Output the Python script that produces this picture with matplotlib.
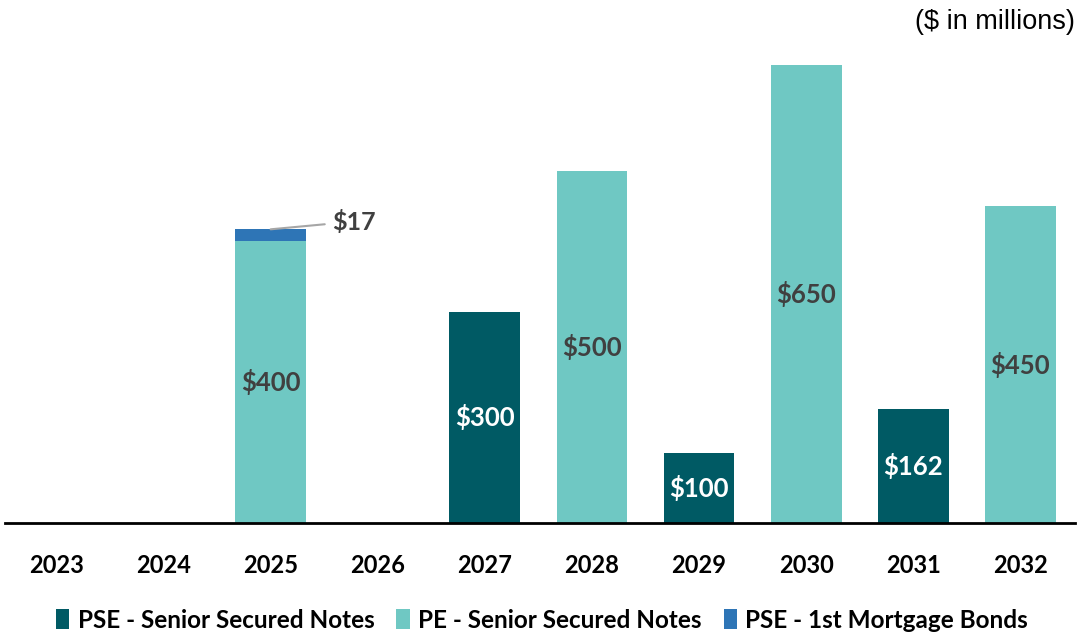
import matplotlib.pyplot as plt
import numpy as np

years = ['2023', '2024', '2025', '2026', '2027', '2028', '2029', '2030', '2031', '2032']
pse_senior = [0, 0, 0, 0, 300, 0, 100, 0, 162, 0]
pe_senior = [0, 0, 400, 0, 0, 500, 0, 650, 0, 450]
pse_mortgage = [0, 0, 17, 0, 0, 0, 0, 0, 0, 0]

c_dark = '#005A64'
c_light = '#6FC8C3'
c_blue = '#2E75B6'
txt = '#404040'

plt.rcParams['font.family'] = ['Lato', 'DejaVu Sans']

fig = plt.figure(figsize=(10.84, 6.35), dpi=100)
ax = fig.add_axes([5 / 1084, 112 / 635, 1070 / 1084, 493 / 635])

x = np.arange(len(years))
w = 0.66
pse_senior = np.array(pse_senior)
pe_senior = np.array(pe_senior)
pse_mortgage = np.array(pse_mortgage)

ax.bar(x, pse_senior, w, color=c_dark, label='PSE - Senior Secured Notes')
ax.bar(x, pe_senior, w, bottom=pse_senior, color=c_light, label='PE - Senior Secured Notes')
ax.bar(x, pse_mortgage, w, bottom=pse_senior + pe_senior, color=c_blue,
       label='PSE - 1st Mortgage Bonds')

# value labels inside bars
for i in range(len(years)):
    if pse_senior[i] > 0:
        ax.text(x[i], pse_senior[i] / 2, f'${pse_senior[i]}', ha='center', va='center',
                color='white', fontsize=18.5, fontweight='bold')
    if pe_senior[i] > 0:
        ax.text(x[i], pse_senior[i] + pe_senior[i] / 2, f'${pe_senior[i]}', ha='center',
                va='center', color=txt, fontsize=18.5, fontweight='bold')
    if pse_mortgage[i] > 0:
        top = pse_senior[i] + pe_senior[i] + pse_mortgage[i]
        ax.annotate(f'${pse_mortgage[i]}', xy=(x[i], top), xytext=(x[i] + 0.57, top + 11),
                    ha='left', va='center', color=txt, fontsize=18, fontweight='bold',
                    arrowprops=dict(arrowstyle='-', color='#A6A6A6', lw=1.5,
                                    shrinkA=3, shrinkB=0))

ax.set_xlim(-0.48, 9.51)
ax.set_ylim(0, 700)
for s in ['top', 'right', 'left']:
    ax.spines[s].set_visible(False)
ax.spines['bottom'].set_linewidth(2)
ax.spines['bottom'].set_color('black')
ax.set_yticks([])
ax.set_xticks(x)
ax.set_xticklabels(years, fontsize=17, fontweight='bold')
ax.tick_params(axis='x', length=0, pad=22)

fig.text(1075 / 1084, 1 - 22 / 635, '($ in millions)', ha='right', va='center',
         fontsize=19.5, family='Liberation Sans')

fig.legend(loc='center', bbox_to_anchor=(0.5, 1 - 620 / 635), ncol=3, frameon=False,
           handlelength=0.55, handleheight=0.9, handletextpad=0.35,
           columnspacing=0.9, prop={'weight': 'bold', 'size': 17.5})

fig.savefig('out.png', dpi=100)
